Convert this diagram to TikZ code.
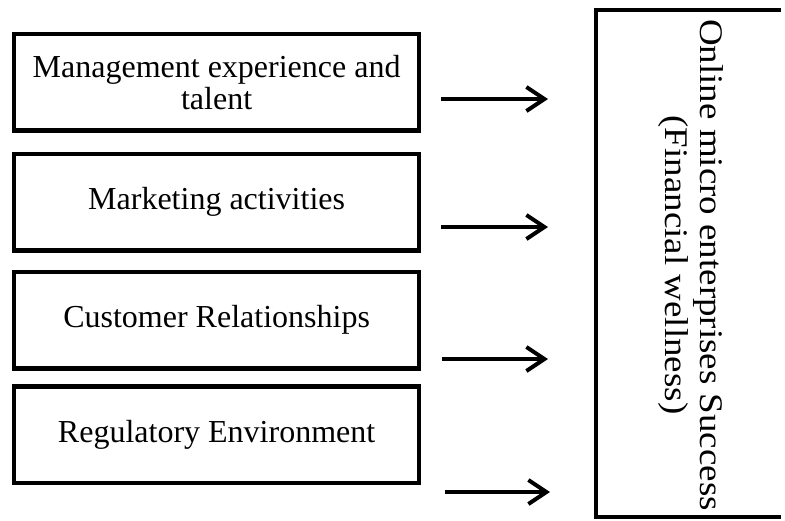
\documentclass[tikz,border=0pt]{standalone}
\usepackage{fontspec}
\setmainfont{Liberation Serif}
\usetikzlibrary{arrows.meta}

\tikzset{
  factor/.style={draw=black, line width=4.5pt, minimum width=405pt, minimum height=96.5pt,
    inner sep=0pt, align=center, font=\fontsize{32}{32}\selectfont},
  feed/.style={line width=4pt, -{Straight Barb[length=18pt,width=24pt]}},
}

\begin{document}
\begin{tikzpicture}[x=1pt,y=-1pt]
    \useasboundingbox (0,0) rectangle (785,520);

    \node[factor] (mgmt) at (216.6,82.25) {Management experience and\\talent};
    \node[factor] (mkt) at (216.6,202.25) {Marketing activities};
    \node[factor] (cust) at (216.6,320) {Customer Relationships};
    \node[factor] (reg) at (216.6,434.75) {Regulatory Environment};

    % outcome box, open on the right
    \draw[line width=4.5pt] (781,10) -- (596,10) -- (596,517) -- (781,517);
    \node[rotate=-90, inner sep=0pt] (success) at (690,265)
      {\fontsize{33}{35}\selectfont\scalebox{1.12}[1]{\begin{tabular}{@{}c@{}}Online micro enterprises Success\\(Financial wellness)\end{tabular}}};

    \coordinate (mgmtout) at (441,99);
    \coordinate (mgmtin) at (548,99);
    \coordinate (mktout) at (441,227);
    \coordinate (mktin) at (548,227);
    \coordinate (custout) at (442,359);
    \coordinate (custin) at (548,359);
    \coordinate (regout) at (445,492);
    \coordinate (regin) at (550,492);

    \draw[feed] (mgmtout) -- (mgmtin);
    \draw[feed] (mktout) -- (mktin);
    \draw[feed] (custout) -- (custin);
    \draw[feed] (regout) -- (regin);

\end{tikzpicture}
\end{document}
